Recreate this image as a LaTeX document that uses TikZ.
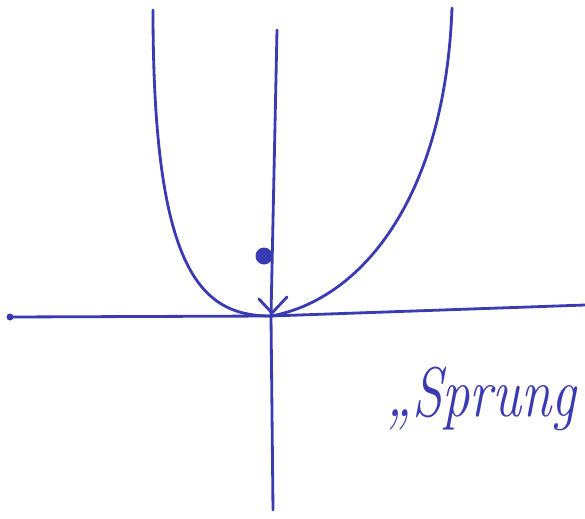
\documentclass[tikz,border=0pt]{standalone}
\usetikzlibrary{positioning}
\definecolor{ink}{RGB}{58,58,178}
\begin{document}
\begin{tikzpicture}[x=0.02cm,y=-0.02cm,pen/.style={ink,line width=1.6pt,line cap=round,line join=round},
  dot/.style={circle,fill=ink,inner sep=0pt}]
  \useasboundingbox (0,0) rectangle (585,518);
  % osy
  \coordinate (xl) at (10,317);
  \coordinate (xr) at (585,305);
  \coordinate (yt) at (277,30);
  \coordinate (yb) at (273,510);
  \coordinate (o) at (271,316);
  \node[dot,minimum size=0.14cm] (xdot) at (xl) {};
  \draw[pen] (xl) -- (o) -- (xr);
  \draw[pen] (yt) -- (o) -- (yb);
  \node[dot,minimum size=0.34cm] (p) at (264,256) {};
  % parabola
  \draw[pen] (153,10) .. controls (153,270) and (200,316) .. (o)
    .. controls (360,300) and (445,200) .. (452,8);
  % znacka u vrcholu
  \coordinate (vl) at (259,299);
  \coordinate (vr) at (287,297);
  \coordinate (vt) at (272,313);
  \draw[pen] (vl) -- (vt) -- (vr);
  \node[ink,anchor=base west,inner sep=0pt] (lbl) at (386,416)
    {\scalebox{0.78}[1]{\fontsize{40}{46}\selectfont\itshape „Sprung}};
\end{tikzpicture}
\end{document}
